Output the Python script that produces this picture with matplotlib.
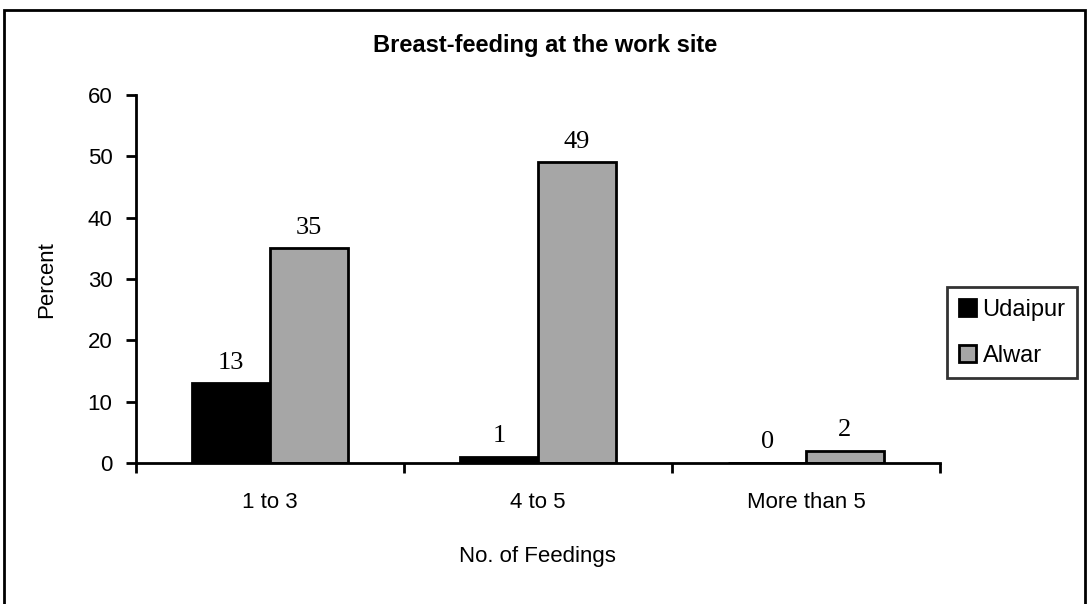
import numpy as np
import matplotlib.pyplot as plt
from matplotlib.patches import Rectangle

# ---------------------------------------
# Data
# ---------------------------------------

categories = ["1 to 3", "4 to 5", "More than 5"]
udaipur = [13, 1, 0]
alwar = [35, 49, 2]

# ---------------------------------------
# Figure
# ---------------------------------------

fig = plt.figure(figsize=(10.9, 6.04), dpi=100)
ax = fig.add_axes([0.1248, 0.2334, 0.7376, 0.6093])

x = np.arange(len(categories))
w = 0.29

b1 = ax.bar(x - w / 2, udaipur, w, color="black", edgecolor="black",
            linewidth=2, label="Udaipur")
b2 = ax.bar(x + w / 2, alwar, w, color="#a6a6a6", edgecolor="black",
            linewidth=2, label="Alwar")

for bars, vals in [(b1, udaipur), (b2, alwar)]:
    for rect, v in zip(bars, vals):
        ax.annotate(str(v), (rect.get_x() + rect.get_width() / 2, v),
                    xytext=(0, 7), textcoords="offset points",
                    ha="center", va="bottom",
                    fontsize=19, family="Liberation Serif")

ax.set_xlim(-0.5, 2.5)
ax.set_ylim(0, 60)
ax.set_yticks(range(0, 61, 10))
ax.set_xticks([-0.5, 0.5, 1.5, 2.5])
ax.set_xticklabels([])
ax.set_xticks(x, minor=True)
ax.set_xticklabels(categories, minor=True, fontsize=16, family="Liberation Sans")
ax.tick_params(axis="x", which="minor", length=0, pad=21)
ax.tick_params(axis="x", which="major", length=7, width=2, direction="out")
ax.tick_params(axis="y", length=7, width=2, direction="out", pad=10,
               labelsize=16)
for lab in ax.get_yticklabels():
    lab.set_family("Liberation Sans")

for s in ["top", "right"]:
    ax.spines[s].set_visible(False)
for s in ["left", "bottom"]:
    ax.spines[s].set_linewidth(2)

fig.text(0.5, 0.925, "Breast-feeding at the work site", ha="center",
         va="center", fontsize=17, fontweight="bold", family="Liberation Sans")
fig.text(0.493, 0.078, "No. of Feedings", ha="center", va="center",
         fontsize=16, family="Liberation Sans")
fig.text(0.043, 0.537, "Percent", ha="center", va="center", rotation=90,
         fontsize=16, family="Liberation Sans")

leg = fig.legend(loc="center", bbox_to_anchor=(0.9287, 0.449),
                 prop={"family": "Liberation Sans", "size": 17},
                 frameon=True, fancybox=False, edgecolor="black",
                 handlelength=0.7, handleheight=0.7, handletextpad=0.3,
                 labelspacing=1.0, borderpad=0.5, borderaxespad=0)
leg.get_frame().set_linewidth(2)

# outer chart border
fig.patches.append(Rectangle((0.004, -0.01), 0.991, 0.994, transform=fig.transFigure,
                             fill=False, edgecolor="black", linewidth=2))

plt.savefig("out.png", dpi=100)
